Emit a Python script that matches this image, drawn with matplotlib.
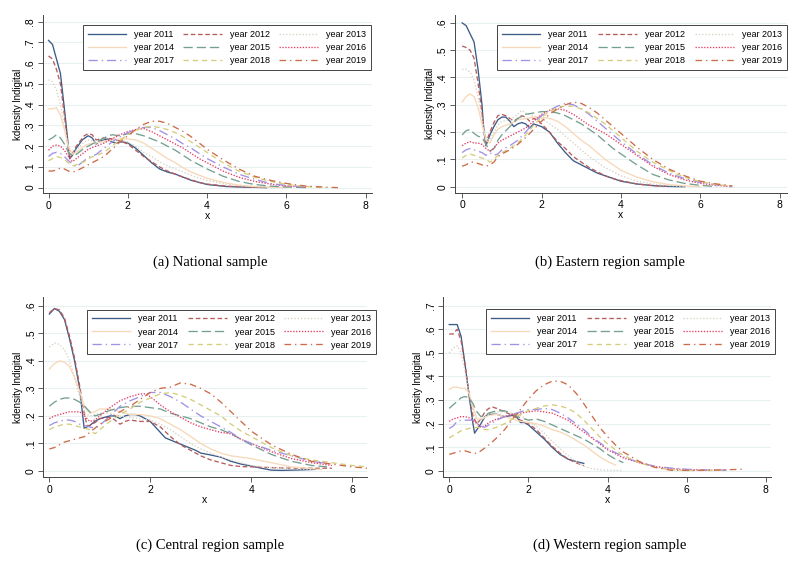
import matplotlib
matplotlib.use("Agg")
import matplotlib.pyplot as plt

W, H = 809, 562

years = [2011, 2012, 2013, 2014, 2015, 2016, 2017, 2018, 2019]

# kernel density curves: (x, density)
national = {
    2011: [(0, .71), (.1, .69), (.2, .62), (.3, .55), (.4, .38), (.5, .2), (.53, .14), (.6, .155), (.7, .19),
           (.85, .23), (1.0, .25), (1.1, .24), (1.2, .21), (1.3, .225), (1.4, .23), (1.5, .235), (1.6, .22),
           (1.7, .215), (1.8, .22), (1.9, .22), (2.0, .215), (2.2, .19), (2.4, .155), (2.6, .12), (2.8, .09),
           (3.0, .075), (3.2, .065), (3.4, .05), (3.6, .035), (3.8, .025), (4.0, .015), (4.5, .005), (5.0, .002),
           (5.5, 0)],
    2012: [(0, .635), (.1, .62), (.2, .57), (.3, .5), (.4, .35), (.5, .18), (.55, .145), (.7, .2), (.9, .25),
           (1.0, .26), (1.1, .255), (1.2, .23), (1.4, .24), (1.6, .235), (1.8, .225), (2.0, .21), (2.2, .18),
           (2.4, .15), (2.6, .125), (2.8, .1), (3.0, .08), (3.4, .05), (3.8, .025), (4.0, .017), (4.5, .007),
           (5.0, .003), (5.5, 0)],
    2013: [(0, .52), (.1, .51), (.2, .47), (.3, .4), (.4, .3), (.5, .2), (.55, .16), (.7, .18), (.9, .22),
           (1.0, .23), (1.2, .22), (1.4, .22), (1.6, .23), (1.8, .23), (2.0, .22), (2.2, .2), (2.4, .17),
           (2.6, .15), (2.8, .125), (3.0, .105), (3.4, .075), (3.8, .045), (4.0, .035), (4.5, .015), (5.0, .006),
           (5.5, .002), (6.0, 0)],
    2014: [(0, .38), (.1, .38), (.2, .385), (.3, .35), (.4, .28), (.5, .2), (.6, .16), (.7, .17), (.9, .2),
           (1.0, .21), (1.2, .215), (1.4, .225), (1.6, .23), (1.8, .235), (2.0, .235), (2.2, .23), (2.4, .215),
           (2.6, .19), (2.8, .165), (3.0, .14), (3.2, .12), (3.4, .095), (3.6, .075), (3.8, .06), (4.0, .045),
           (4.4, .025), (4.8, .012), (5.2, .005), (6.0, 0)],
    2015: [(0, .23), (.1, .24), (.2, .255), (.3, .24), (.4, .21), (.5, .17), (.6, .155), (.7, .16), (.9, .19),
           (1.0, .2), (1.2, .22), (1.4, .24), (1.6, .255), (1.8, .25), (2.0, .26), (2.2, .26), (2.4, .25),
           (2.6, .235), (2.8, .22), (3.0, .2), (3.2, .18), (3.4, .155), (3.6, .13), (3.8, .11), (4.0, .09),
           (4.4, .055), (4.8, .03), (5.2, .015), (5.6, .007), (6.0, .003), (6.5, 0)],
    2016: [(0, .18), (.1, .2), (.2, .205), (.3, .2), (.4, .18), (.5, .15), (.6, .125), (.7, .14), (.9, .17),
           (1.0, .185), (1.2, .2), (1.4, .215), (1.6, .235), (1.8, .255), (2.0, .27), (2.2, .28), (2.4, .285),
           (2.6, .27), (2.8, .25), (3.0, .23), (3.2, .21), (3.4, .19), (3.6, .165), (3.8, .14), (4.0, .12),
           (4.4, .08), (4.8, .05), (5.2, .03), (5.6, .017), (6.0, .008), (6.5, .002)],
    2017: [(0, .15), (.1, .165), (.2, .17), (.3, .165), (.4, .15), (.5, .13), (.6, .115), (.7, .1), (.9, .13),
           (1.0, .145), (1.2, .16), (1.4, .19), (1.6, .22), (1.8, .245), (2.0, .265), (2.2, .28), (2.4, .29),
           (2.6, .29), (2.8, .275), (3.0, .255), (3.2, .235), (3.4, .21), (3.6, .19), (3.8, .165), (4.0, .14),
           (4.4, .1), (4.8, .065), (5.2, .04), (5.6, .02), (6.0, .01), (6.5, .003)],
    2018: [(0, .13), (.1, .14), (.2, .15), (.3, .145), (.4, .135), (.5, .12), (.6, .105), (.7, .11), (.9, .125),
           (1.0, .14), (1.2, .155), (1.4, .17), (1.6, .2), (1.8, .23), (2.0, .255), (2.2, .275), (2.4, .29),
           (2.6, .295), (2.8, .29), (3.0, .28), (3.2, .265), (3.4, .245), (3.6, .22), (3.8, .195), (4.0, .17),
           (4.4, .12), (4.8, .08), (5.2, .05), (5.6, .03), (6.0, .015), (6.5, .005), (7.0, 0)],
    2019: [(0, .08), (.1, .08), (.2, .085), (.3, .095), (.4, .09), (.5, .08), (.6, .075), (.7, .08), (.9, .1),
           (1.0, .11), (1.2, .13), (1.4, .15), (1.6, .185), (1.8, .22), (2.0, .25), (2.2, .28), (2.4, .305),
           (2.6, .32), (2.8, .32), (3.0, .31), (3.2, .29), (3.4, .27), (3.6, .245), (3.8, .215), (4.0, .185),
           (4.4, .135), (4.8, .09), (5.2, .055), (5.6, .035), (6.0, .02), (6.5, .007), (7.0, .002), (7.3, 0)],
}

eastern = {
    2011: [(0, .6), (.1, .59), (.2, .56), (.3, .53), (.4, .43), (.5, .3), (.55, .2), (.6, .15), (.7, .19),
           (.8, .22), (.9, .245), (1.0, .255), (1.1, .255), (1.2, .24), (1.3, .22), (1.4, .23), (1.5, .235),
           (1.6, .23), (1.7, .215), (1.8, .23), (1.9, .225), (2.0, .22), (2.2, .2), (2.4, .16), (2.6, .125),
           (2.8, .095), (3.0, .08), (3.2, .065), (3.4, .05), (3.6, .04), (3.8, .03), (4.0, .02), (4.4, .01),
           (4.8, .004), (5.2, .001), (5.6, 0)],
    2012: [(0, .515), (.1, .51), (.2, .5), (.3, .47), (.4, .38), (.5, .27), (.55, .2), (.6, .16), (.7, .2),
           (.8, .235), (.9, .26), (1.0, .265), (1.1, .26), (1.2, .25), (1.3, .24), (1.4, .25), (1.5, .26),
           (1.6, .255), (1.7, .24), (1.8, .25), (1.9, .245), (2.0, .23), (2.2, .2), (2.4, .165), (2.6, .14),
           (2.8, .11), (3.0, .09), (3.2, .07), (3.4, .055), (3.6, .04), (3.8, .03), (4.0, .022), (4.4, .01),
           (4.8, .004), (5.2, .001)],
    2013: [(0, .43), (.1, .43), (.2, .42), (.3, .39), (.4, .33), (.5, .25), (.6, .18), (.7, .17), (.8, .2),
           (.9, .225), (1.0, .24), (1.2, .245), (1.4, .265), (1.5, .28), (1.6, .27), (1.8, .26), (2.0, .25),
           (2.2, .23), (2.4, .21), (2.6, .185), (2.8, .16), (3.0, .135), (3.2, .11), (3.4, .09), (3.6, .07),
           (3.8, .055), (4.0, .04), (4.4, .02), (4.8, .01), (5.2, .004), (5.6, 0)],
    2014: [(0, .31), (.1, .33), (.2, .34), (.3, .33), (.4, .29), (.5, .23), (.6, .17), (.7, .16), (.8, .19),
           (.9, .21), (1.0, .22), (1.2, .23), (1.4, .245), (1.6, .25), (1.8, .255), (2.0, .255), (2.2, .25),
           (2.4, .24), (2.6, .22), (2.8, .195), (3.0, .17), (3.2, .15), (3.4, .125), (3.6, .1), (3.8, .08),
           (4.0, .06), (4.4, .035), (4.8, .018), (5.2, .008), (5.6, .003), (6.0, 0)],
    2015: [(0, .19), (.1, .205), (.2, .21), (.3, .195), (.4, .185), (.5, .18), (.6, .155), (.7, .13), (.8, .14),
           (.9, .17), (1.0, .19), (1.2, .22), (1.4, .25), (1.6, .265), (1.8, .27), (2.0, .275), (2.2, .275),
           (2.4, .27), (2.6, .26), (2.8, .245), (3.0, .23), (3.2, .21), (3.4, .19), (3.6, .165), (3.8, .14),
           (4.0, .12), (4.4, .08), (4.8, .045), (5.2, .025), (5.6, .012), (6.0, .005), (6.4, 0)],
    2016: [(0, .15), (.1, .16), (.2, .165), (.3, .16), (.4, .16), (.5, .155), (.6, .14), (.7, .13), (.8, .14),
           (.9, .16), (1.0, .17), (1.2, .185), (1.4, .2), (1.6, .215), (1.8, .24), (2.0, .265), (2.2, .28),
           (2.4, .285), (2.6, .28), (2.8, .265), (3.0, .245), (3.2, .225), (3.4, .21), (3.6, .195), (3.8, .175),
           (4.0, .155), (4.4, .115), (4.8, .075), (5.2, .045), (5.6, .025), (6.0, .012), (6.4, .005), (6.8, 0)],
    2017: [(0, .125), (.1, .135), (.2, .14), (.3, .135), (.4, .13), (.5, .125), (.6, .115), (.7, .125), (.8, .115),
           (.9, .12), (1.0, .135), (1.2, .15), (1.4, .17), (1.6, .2), (1.8, .235), (2.0, .26), (2.2, .28),
           (2.4, .295), (2.6, .305), (2.8, .3), (3.0, .285), (3.2, .265), (3.4, .24), (3.6, .215), (3.8, .19),
           (4.0, .165), (4.4, .12), (4.8, .08), (5.2, .05), (5.6, .03), (6.0, .015), (6.4, .007), (6.8, 0)],
    2018: [(0, .105), (.1, .115), (.2, .12), (.3, .115), (.4, .11), (.5, .105), (.6, .1), (.7, .09), (.8, .1),
           (.9, .115), (1.0, .125), (1.2, .14), (1.4, .16), (1.6, .19), (1.8, .225), (2.0, .255), (2.2, .275),
           (2.4, .29), (2.6, .295), (2.8, .295), (3.0, .285), (3.2, .27), (3.4, .25), (3.6, .23), (3.8, .205),
           (4.0, .18), (4.4, .13), (4.8, .09), (5.2, .06), (5.6, .035), (6.0, .018), (6.4, .008), (6.8, .002)],
    2019: [(0, .075), (.1, .08), (.2, .09), (.3, .09), (.4, .085), (.5, .08), (.6, .075), (.7, .08), (.8, .09),
           (.9, .11), (1.0, .12), (1.2, .135), (1.4, .155), (1.6, .18), (1.8, .21), (2.0, .24), (2.2, .265),
           (2.4, .285), (2.6, .3), (2.8, .31), (3.0, .305), (3.2, .29), (3.4, .27), (3.6, .245), (3.8, .22),
           (4.0, .195), (4.4, .145), (4.8, .1), (5.2, .065), (5.6, .04), (6.0, .02), (6.4, .01), (6.8, .003)],
}

central = {
    2011: [(0, .57), (.1, .59), (.2, .58), (.3, .55), (.4, .48), (.5, .4), (.6, .3), (.69, .155), (.8, .165),
           (.9, .18), (1.0, .19), (1.2, .2), (1.3, .2), (1.4, .19), (1.5, .2), (1.6, .205), (1.7, .205), (1.8, .2),
           (2.0, .18), (2.1, .16), (2.2, .14), (2.3, .12), (2.5, .105), (2.7, .09), (2.9, .075), (3.0, .065),
           (3.2, .058), (3.4, .05), (3.6, .035), (3.8, .025), (4.0, .018), (4.2, .01), (4.4, .003), (4.6, .002),
           (5.0, .004), (5.3, .006)],
    2012: [(0, .575), (.1, .59), (.2, .585), (.3, .555), (.4, .49), (.5, .41), (.6, .31), (.7, .2), (.75, .165),
           (.8, .165), (.9, .175), (1.0, .19), (1.2, .195), (1.3, .185), (1.4, .17), (1.5, .18), (1.6, .185),
           (1.8, .18), (2.0, .18), (2.2, .16), (2.4, .125), (2.6, .095), (2.8, .075), (3.0, .055), (3.2, .04),
           (3.4, .03), (3.6, .02), (3.8, .016), (4.0, .015), (4.4, .012), (4.8, .01), (5.2, .01), (5.6, .01)],
    2013: [(0, .45), (.1, .465), (.2, .46), (.3, .44), (.4, .4), (.5, .34), (.6, .27), (.7, .21), (.8, .2),
           (.9, .205), (1.0, .21), (1.2, .21), (1.4, .2), (1.6, .195), (1.8, .19), (2.0, .185), (2.2, .17),
           (2.4, .15), (2.6, .125), (2.8, .1), (3.0, .08), (3.2, .065), (3.4, .05), (3.6, .04), (3.8, .03),
           (4.0, .02), (4.4, .012), (4.8, .008), (5.2, .005)],
    2014: [(0, .37), (.1, .39), (.2, .4), (.3, .395), (.4, .38), (.5, .34), (.6, .29), (.7, .23), (.8, .21),
           (.9, .215), (1.0, .225), (1.2, .225), (1.4, .215), (1.6, .205), (1.8, .205), (2.0, .2), (2.2, .19),
           (2.4, .17), (2.6, .15), (2.8, .125), (3.0, .1), (3.2, .08), (3.4, .065), (3.6, .055), (3.8, .05),
           (4.0, .045), (4.4, .03), (4.8, .015), (5.2, .008), (5.4, .005)],
    2015: [(0, .235), (.1, .25), (.2, .26), (.3, .265), (.4, .265), (.5, .26), (.6, .25), (.7, .235), (.8, .215),
           (.9, .2), (1.0, .205), (1.2, .22), (1.4, .23), (1.6, .235), (1.8, .235), (2.0, .23), (2.2, .225),
           (2.4, .21), (2.6, .2), (2.8, .19), (3.0, .175), (3.2, .16), (3.4, .15), (3.6, .135), (3.8, .115),
           (4.0, .095), (4.4, .06), (4.8, .035), (5.2, .02), (5.5, .015)],
    2016: [(0, .19), (.1, .2), (.2, .205), (.3, .21), (.4, .215), (.5, .215), (.6, .215), (.7, .2), (.8, .18),
           (.9, .185), (1.0, .2), (1.2, .23), (1.4, .255), (1.6, .27), (1.8, .28), (1.9, .28), (2.0, .27),
           (2.2, .24), (2.4, .215), (2.6, .195), (2.8, .175), (3.0, .16), (3.2, .15), (3.4, .14), (3.6, .135),
           (3.8, .115), (4.0, .1), (4.4, .07), (4.8, .045), (5.2, .03), (5.6, .02)],
    2017: [(0, .165), (.1, .175), (.2, .18), (.3, .185), (.4, .185), (.5, .18), (.6, .17), (.7, .165), (.8, .16),
           (.9, .155), (1.0, .165), (1.2, .2), (1.4, .235), (1.6, .255), (1.8, .27), (2.0, .285), (2.2, .285),
           (2.4, .27), (2.6, .25), (2.8, .225), (3.0, .2), (3.2, .18), (3.4, .16), (3.6, .14), (3.8, .115),
           (4.0, .1), (4.4, .075), (4.8, .055), (5.2, .035), (5.6, .025)],
    2018: [(0, .15), (.1, .16), (.2, .165), (.3, .17), (.4, .17), (.5, .165), (.6, .16), (.7, .155), (.8, .15),
           (.9, .135), (1.0, .15), (1.2, .18), (1.4, .205), (1.6, .225), (1.8, .25), (2.0, .265), (2.2, .28),
           (2.4, .285), (2.6, .275), (2.8, .26), (3.0, .24), (3.2, .22), (3.4, .2), (3.6, .17), (3.8, .145),
           (4.0, .125), (4.4, .085), (4.8, .055), (5.2, .04), (5.6, .03), (6.0, .02), (6.3, .015)],
    2019: [(0, .08), (.1, .085), (.2, .095), (.3, .105), (.4, .11), (.5, .115), (.6, .12), (.7, .125), (.8, .14),
           (.9, .155), (1.0, .17), (1.2, .19), (1.4, .215), (1.6, .235), (1.8, .26), (2.0, .285), (2.2, .3),
           (2.4, .305), (2.6, .32), (2.8, .315), (3.0, .3), (3.2, .28), (3.4, .25), (3.6, .215), (3.8, .18),
           (4.0, .145), (4.2, .12), (4.4, .095), (4.8, .06), (5.2, .035), (5.6, .025), (6.0, .015), (6.3, .01)],
}

western = {
    2011: [(0, .62), (.1, .62), (.2, .62), (.3, .57), (.4, .45), (.5, .32), (.6, .2), (.64, .16), (.8, .2),
           (.9, .23), (1.0, .24), (1.2, .24), (1.4, .23), (1.6, .235), (1.7, .23), (1.8, .205), (1.9, .205),
           (2.0, .195), (2.2, .165), (2.4, .135), (2.6, .1), (2.8, .07), (3.0, .05), (3.2, .04), (3.4, .032)],
    2012: [(0, .58), (.1, .58), (.2, .6), (.3, .55), (.4, .45), (.5, .33), (.6, .23), (.7, .2), (.8, .22),
           (.9, .25), (1.0, .265), (1.1, .27), (1.2, .265), (1.4, .25), (1.6, .235), (1.8, .215), (2.0, .2),
           (2.2, .175), (2.4, .14), (2.6, .105), (2.8, .075), (3.0, .05), (3.2, .035), (3.4, .022)],
    2013: [(0, .5), (.1, .52), (.2, .53), (.3, .5), (.4, .42), (.5, .33), (.6, .25), (.7, .21), (.8, .215),
           (1.0, .24), (1.2, .25), (1.4, .25), (1.6, .245), (1.8, .235), (2.0, .215), (2.2, .19), (2.4, .16),
           (2.6, .125), (2.8, .095), (3.0, .065), (3.2, .04), (3.4, .02), (3.6, .01), (3.8, .005), (4.0, .003),
           (4.4, .002)],
    2014: [(0, .345), (.1, .355), (.2, .355), (.3, .35), (.4, .35), (.5, .33), (.6, .27), (.7, .22), (.8, .22),
           (1.0, .235), (1.2, .24), (1.4, .23), (1.6, .22), (1.8, .21), (2.0, .205), (2.2, .2), (2.4, .19),
           (2.6, .175), (2.8, .165), (3.0, .15), (3.2, .13), (3.4, .11), (3.6, .085), (3.8, .06), (4.0, .04),
           (4.2, .025)],
    2015: [(0, .265), (.1, .28), (.2, .295), (.3, .31), (.4, .315), (.5, .31), (.6, .285), (.7, .25), (.8, .23),
           (.9, .235), (1.0, .245), (1.2, .255), (1.4, .255), (1.6, .24), (1.8, .225), (2.0, .215), (2.2, .22),
           (2.4, .21), (2.6, .195), (2.8, .18), (3.0, .165), (3.2, .15), (3.4, .135), (3.6, .115), (3.8, .095),
           (4.0, .07), (4.2, .05), (4.4, .035)],
    2016: [(0, .21), (.1, .22), (.2, .225), (.3, .23), (.4, .23), (.5, .225), (.6, .215), (.7, .2), (.8, .185),
           (.9, .19), (1.0, .205), (1.2, .22), (1.4, .23), (1.6, .24), (1.8, .245), (2.0, .25), (2.2, .255),
           (2.4, .25), (2.6, .245), (2.8, .23), (3.0, .215), (3.2, .19), (3.4, .165), (3.6, .14), (3.8, .115),
           (4.0, .09), (4.4, .055), (4.8, .035), (5.2, .018), (5.6, .01), (6.0, .005), (6.5, .003), (7.0, .003)],
    2017: [(0, .18), (.1, .19), (.2, .21), (.3, .215), (.4, .215), (.5, .215), (.6, .215), (.7, .205), (.8, .19),
           (.9, .185), (1.0, .195), (1.2, .215), (1.4, .23), (1.6, .24), (1.8, .25), (2.0, .26), (2.2, .26),
           (2.4, .265), (2.6, .26), (2.8, .245), (3.0, .225), (3.2, .2), (3.4, .175), (3.6, .145), (3.8, .12),
           (4.0, .095), (4.4, .06), (4.8, .035), (5.2, .02), (5.6, .012), (6.0, .007), (6.5, .004), (7.0, .003)],
    2018: [(0, .14), (.1, .15), (.2, .16), (.3, .17), (.4, .175), (.5, .18), (.6, .18), (.7, .185), (.8, .18),
           (.9, .175), (1.0, .175), (1.2, .185), (1.4, .2), (1.6, .22), (1.8, .24), (2.0, .255), (2.2, .265),
           (2.4, .275), (2.6, .28), (2.8, .275), (3.0, .265), (3.2, .245), (3.4, .215), (3.6, .18), (3.8, .145),
           (4.0, .115), (4.4, .065), (4.8, .035), (5.2, .015), (5.6, .005), (6.0, .002), (6.5, .002), (7.0, .003)],
    2019: [(0, .07), (.1, .075), (.2, .08), (.3, .085), (.4, .085), (.5, .08), (.6, .075), (.7, .075), (.8, .085),
           (1.0, .11), (1.2, .14), (1.4, .175), (1.6, .22), (1.8, .26), (2.0, .305), (2.2, .34), (2.4, .365),
           (2.6, .38), (2.8, .38), (3.0, .365), (3.2, .33), (3.4, .285), (3.6, .235), (3.8, .185), (4.0, .145),
           (4.2, .11), (4.4, .08), (4.8, .04), (5.2, .015), (5.6, .003), (6.0, .002), (6.5, .003), (7.0, .005),
           (7.4, .007)],
}

captions = ["(a) National sample", "(b) Eastern region sample",
            "(c) Central region sample", "(d) Western region sample"]

colors = {2011: "#3b5b87", 2012: "#b85c5c", 2013: "#d8d1c3", 2014: "#f7d8b8", 2015: "#74a091",
          2016: "#e63a60", 2017: "#a091e6", 2018: "#d5cc7c", 2019: "#cd6b47"}
styles = {2011: "-", 2012: (0, (3.5, 2)), 2013: (0, (1, 1.5)), 2014: "-", 2015: (0, (7, 3)),
          2016: (0, (1, 1.2)), 2017: (0, (7, 3, 1, 3)), 2018: (0, (4, 3)), 2019: (0, (5, 3, 1, 3))}

# pixel layout: axes box (left, top, right, bottom), x/y limits, ticks, legend box, caption position
panels = [
    dict(data=national, box=(43, 15.5, 372, 193), xlim=(-0.14, 8.16), ylim=(-0.026, 0.83),
         xt=[0, 2, 4, 6, 8], yt=[0, .1, .2, .3, .4, .5, .6, .7, .8], leg=(83, 26, 371), cap=(210, 262)),
    dict(data=eastern, box=(455, 14.7, 787, 192.7), xlim=(-0.18, 8.18), ylim=(-0.022, 0.63),
         xt=[0, 2, 4, 6, 8], yt=[0, .1, .2, .3, .4, .5, .6], leg=(497, 26, 787), cap=(610, 262)),
    dict(data=central, box=(43.3, 296.7, 366.7, 477.3), xlim=(-0.12, 6.29), ylim=(-0.023, 0.633),
         xt=[0, 2, 4, 6], yt=[0, .1, .2, .3, .4, .5, .6], leg=(87, 310.5, 376), cap=(210, 545)),
    dict(data=western, box=(443.3, 296.7, 771, 477.3), xlim=(-0.15, 8.13), ylim=(-0.027, 0.738),
         xt=[0, 2, 4, 6, 8], yt=[0, .1, .2, .3, .4, .5, .6, .7], leg=(486, 310, 775), cap=(610, 545)),
]


def tick_text(v):
    if v == 0:
        return "0"
    return ("%.1f" % v).lstrip("0")


plt.rcParams["font.family"] = ["Liberation Sans", "DejaVu Sans"]
fig = plt.figure(figsize=(W / 100, H / 100), dpi=100)
fig.patch.set_facecolor("white")

for p, caption in zip(panels, captions):
    l, t, r, b = p["box"]
    ax = fig.add_axes([l / W, 1 - b / H, (r - l) / W, (b - t) / H])
    for yr in years:
        pts = p["data"][yr]
        ax.plot([q[0] for q in pts], [q[1] for q in pts], color=colors[yr],
                linestyle=styles[yr], linewidth=0.95, label="year %d" % yr)
    ax.set_xlim(*p["xlim"])
    ax.set_ylim(*p["ylim"])
    ax.set_xticks(p["xt"])
    ax.set_yticks(p["yt"])
    ax.set_yticklabels([tick_text(v) for v in p["yt"]], rotation=90, va="center")
    ax.yaxis.grid(True, color="#e8f0f2", linewidth=0.8)
    ax.set_axisbelow(True)
    for s in ["top", "right"]:
        ax.spines[s].set_visible(False)
    for s in ["left", "bottom"]:
        ax.spines[s].set_color("#444444")
        ax.spines[s].set_linewidth(0.7)
    ax.tick_params(labelsize=7.5, length=3.5, width=0.6, color="#444444", pad=2)
    ax.set_xlabel("x", fontsize=7.5, labelpad=0)
    ax.set_ylabel("kdensity lndigital", fontsize=7, labelpad=2)

    handles, labels = ax.get_legend_handles_labels()
    order = [0, 3, 6, 1, 4, 7, 2, 5, 8]
    x0, y0, x1 = p["leg"]
    leg = fig.legend([handles[i] for i in order], [labels[i] for i in order],
                     loc="upper left", bbox_to_anchor=(x0 / W, 1 - y0 / H, (x1 - x0) / W, 0.001),
                     mode="expand", ncol=3, fontsize=6.5, handlelength=4.3, labelspacing=0.45,
                     borderpad=0.5, handletextpad=0.9, fancybox=False, framealpha=1,
                     edgecolor="#444444", borderaxespad=0)
    leg.get_frame().set_linewidth(0.7)

    cx, cy = p["cap"]
    fig.text(cx / W, 1 - cy / H, caption, ha="center", va="center",
             fontsize=10.5, family=["Liberation Serif", "DejaVu Serif"])

fig.savefig("out.png", dpi=100)
